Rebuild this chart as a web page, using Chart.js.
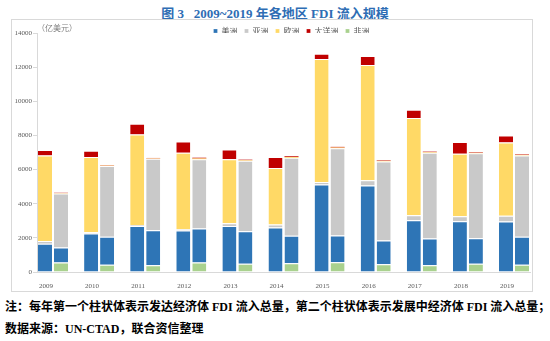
<!DOCTYPE html>
<html>
<head>
<meta charset="utf-8">
<script src="https://cdn.jsdelivr.net/npm/chart.js@4.4.1/dist/chart.umd.min.js"></script>
<style>
  body { margin: 0; width: 550px; height: 341px; background: #fff; overflow: hidden; position: relative; }
  .title { position: absolute; left: 0; top: 3px; width: 550px; text-align: center; color: #2E6DB4; font: bold 13px "Liberation Serif", "Noto Sans CJK SC"; white-space: pre; }
  .box { position: absolute; left: 11px; top: 19px; width: 520px; height: 271px; border: 1px solid #D9D9D9; }
  .unit { position: absolute; left: 37px; top: 22px; color: #7F7F7F; font: 8px "Noto Sans CJK SC"; }
  .note { position: absolute; left: 5px; color: #000; font: bold 12px "Liberation Serif", "Noto Sans CJK SC"; white-space: nowrap; }
  #chart { position: absolute; left: 0; top: 20px; }
</style>
</head>
<body>
<div class="title">图 3   2009~2019 年各地区 FDI 流入规模</div>
<div class="box"></div>
<canvas id="chart" width="550" height="271"></canvas>
<div class="unit">（亿美元）</div>
<div class="note" style="top:297px">注：每年第一个柱状体表示发达经济体 FDI 流入总量，第二个柱状体表示发展中经济体 FDI 流入总量；</div>
<div class="note" style="top:319px">数据来源：UN-CTAD，联合资信整理</div>
<script>
const years = [2009, 2010, 2011, 2012, 2013, 2014, 2015, 2016, 2017, 2018, 2019];

// developed economies (first bar of each year)
const devAfrica   = [0, 0, 0, 0, 0, 0, 0, 0, 0, 0, 0];
const devAmericas = [1660, 2250, 2700, 2430, 2700, 2600, 5130, 5070, 3030, 2980, 2960];
const devAsia     = [160, 80, 60, 80, 160, 180, 140, 310, 290, 290, 330];
const devEurope   = [5010, 4400, 5300, 4480, 3740, 3310, 7200, 6750, 5700, 3660, 4300];
const devOceania  = [310, 370, 630, 650, 570, 650, 310, 530, 490, 690, 410];

// developing economies (second bar of each year)
const dvgAfrica   = [550, 430, 390, 550, 490, 510, 570, 450, 390, 490, 430];
const dvgAmericas = [880, 1630, 2060, 2000, 1900, 1620, 1570, 1390, 1570, 1490, 1640];
const dvgAsia     = [3170, 4150, 4190, 4050, 4130, 4560, 5110, 4640, 5030, 4970, 4760];
const dvgEurope   = [20, 20, 20, 50, 30, 50, 40, 30, 30, 30, 30];
const dvgOceania  = [20, 20, 20, 45, 30, 45, 40, 30, 30, 30, 30];

const regions = ['非洲', '美洲', '亚洲', '欧洲', '大洋洲'];
const legendOrder = ['美洲', '亚洲', '欧洲', '大洋洲', '非洲'];
const colors = ['#A9D18E', '#2E75B6', '#C9C9C9', '#FFD966', '#C00000'];

const devSeries = [devAfrica, devAmericas, devAsia, devEurope, devOceania];
const dvgSeries = [dvgAfrica, dvgAmericas, dvgAsia, dvgEurope, dvgOceania];

const toPoints = vals => years.map((y, i) => ({ x: y, y: vals[i] }));

const datasets = [];
regions.forEach((name, i) => {
    datasets.push({
        label: name, stack: 'dev', data: toPoints(devSeries[i]),
        backgroundColor: colors[i], borderColor: '#fff',
        borderWidth: { top: 1, right: 0, bottom: 0, left: 0 }, borderSkipped: false
    });
});
regions.forEach((name, i) => {
    const thin = i >= 3;
    datasets.push({
        label: name, stack: 'dvg', data: toPoints(dvgSeries[i]),
        backgroundColor: colors[i], borderColor: '#fff',
        borderWidth: thin ? 0 : { top: 1, right: 0, bottom: 0, left: 0 }, borderSkipped: false
    });
});

const tickFont = { family: 'Liberation Serif', size: 7 };

// nudge the legend row a little to the right of the plot centre
const legendShift = {
    id: 'legendShift',
    afterLayout(chart) {
        chart.legend.left += 8;
        chart.legend.right += 8;
    }
};

new Chart(document.getElementById('chart'), {
    type: 'bar',
    data: { datasets },
    plugins: [legendShift],
    options: {
        responsive: false,
        animation: false,
        devicePixelRatio: 1,
        categoryPercentage: 0.694,
        barPercentage: 0.875,
        layout: { padding: { left: 0, right: 20, top: 0, bottom: 0 } },
        plugins: {
            tooltip: { enabled: false },
            legend: {
                position: 'top',
                fullSize: false,
                maxHeight: 13,
                labels: {
                    boxWidth: 4,
                    boxHeight: 4,
                    padding: 7,
                    color: '#595959',
                    font: { family: 'Noto Sans CJK SC', size: 8 },
                    filter: item => item.datasetIndex < regions.length,
                    sort: (a, b) => legendOrder.indexOf(a.text) - legendOrder.indexOf(b.text)
                }
            }
        },
        scales: {
            x: {
                type: 'linear',
                min: 2008.653,
                max: 2019.347,
                offset: false,
                afterBuildTicks: s => { s.ticks = years.map(v => ({ value: v })); },
                afterFit: s => { s.height = 19; },
                grid: { display: false },
                border: { display: true, color: '#D9D9D9' },
                ticks: {
                    callback: v => String(v),
                    labelOffset: -7,
                    padding: 2,
                    color: '#595959',
                    font: tickFont,
                    maxRotation: 0
                }
            },
            y: {
                stacked: true,
                min: 0,
                max: 14000,
                afterFit: s => { s.width = 37; },
                grid: { display: true, drawOnChartArea: false, tickLength: 4, color: '#D9D9D9' },
                border: { display: true, color: '#D9D9D9' },
                ticks: { stepSize: 2000, padding: 1, color: '#595959', font: tickFont, callback: v => String(v) }
            }
        }
    }
});
</script>
</body>
</html>
